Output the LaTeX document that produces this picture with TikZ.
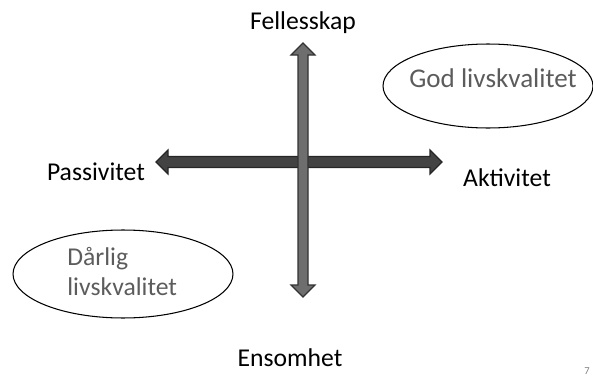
\documentclass[tikz,border=0pt]{standalone}
\usepackage{fontspec}
\setmainfont{Carlito}
\usetikzlibrary{calc,shapes.geometric}

\definecolor{axisdark}{HTML}{434343}
\definecolor{axislight}{HTML}{6E6E6E}
\definecolor{qualtext}{HTML}{5C5C5C}

\tikzset{
  axislabel/.style={anchor=base, text=black, font=\fontsize{14.6}{17}\selectfont},
  quality/.style={ellipse, draw=black, line width=0.6pt, inner sep=0pt},
  qualitylabel/.style={text=qualtext, inner sep=0pt, anchor=base west, font=\fontsize{14.6}{17}\selectfont},
  haxis/.style={fill=axisdark, draw=black!85, line width=0.7pt, line join=miter},
  vaxis/.style={fill=axislight, draw=black!80, line width=0.7pt, line join=miter}
}

\begin{document}
\begin{tikzpicture}[x=0.02cm, y=-0.02cm]
                \useasboundingbox (0,0) rectangle (593,379);
                % ends of the two axes
                \coordinate (top) at (303,43);
                \coordinate (bottom) at (303,297);
                \coordinate (left) at (156,162);
                \coordinate (right) at (442,162);
                % horizontal axis
                \filldraw[haxis] (left) -- ++(12,-12) -- ++(0,6.5) -- ($(right)+(-12,-5.5)$)
                    -- ++(0,-6.5) -- (right) -- ++(-12,12) -- ++(0,-6.5)
                    -- ($(left)+(12,5.5)$) -- ++(0,6.5) -- cycle;
                % vertical axis
                \filldraw[vaxis] (top) -- ++(12,12) -- ++(-7,0) -- ($(bottom)+(5,-12)$)
                    -- ++(7,0) -- (bottom) -- ++(-12,-12) -- ++(7,0)
                    -- ($(top)+(-5,12)$) -- ++(-7,0) -- cycle;
                \node[axislabel] (felles) at (303,29) {Fellesskap};
                \node[axislabel] (passiv) at (96,180) {Passivitet};
                \node[axislabel] (aktiv) at (507,186) {Aktivitet};
                \node[axislabel] (ensom) at (290,366) {Ensomhet};
                \node[quality, minimum width=4.2cm, minimum height=1.68cm] (god) at (488,86) {};
                \node[qualitylabel, font=\fontsize{15.4}{17}\selectfont] (godtxt) at (409,87) {God livskvalitet};
                \node[quality, minimum width=4.4cm, minimum height=1.76cm] (darlig) at (123,274) {};
                \node[qualitylabel, align=left] (darligtxt) at (67,295) {Dårlig\\livskvalitet};
                %\node at (300,200) {};
                \node[text=black!50, font=\fontsize{6}{7}\selectfont] (side) at (587,371) {7};
            \end{tikzpicture}
\end{document}
